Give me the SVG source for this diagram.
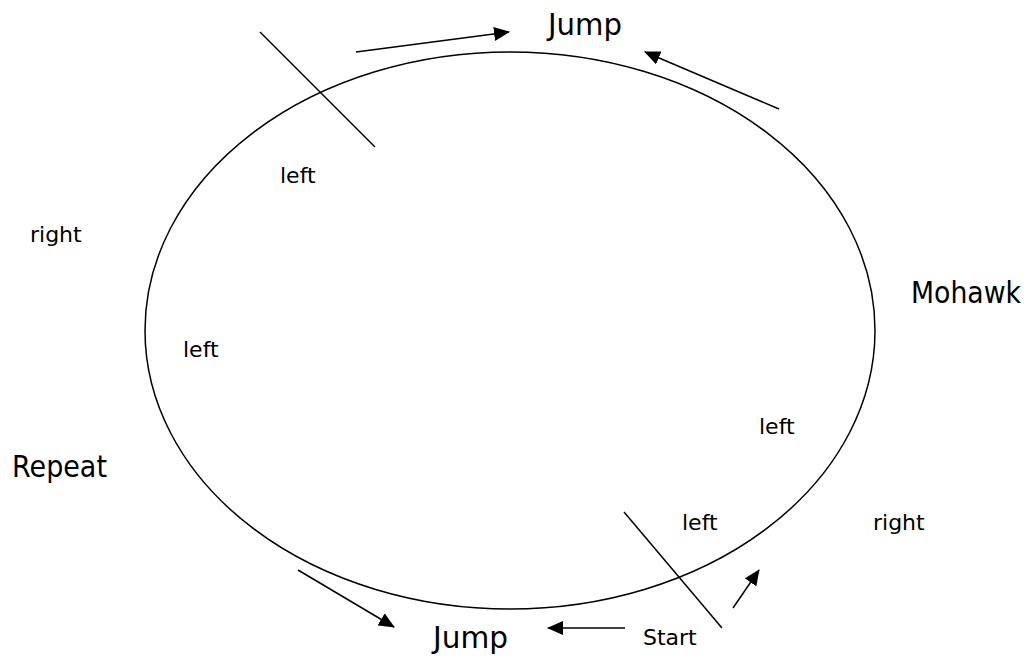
<svg xmlns="http://www.w3.org/2000/svg" width="1033" height="656" viewBox="0 0 1033 656">
<style>
.ln{stroke:#000;stroke-width:1.5;fill:none}
.big{font-family:"DejaVu Sans",Verdana,sans-serif;font-size:30px;fill:#000}
.sm{font-family:"DejaVu Sans",Verdana,sans-serif;font-size:22px;fill:#000}
</style>
<defs>
<marker id="a" viewBox="0 0 16 14" refX="15" refY="7" markerWidth="16" markerHeight="14" orient="auto" markerUnits="userSpaceOnUse">
<path d="M0,0 L16,7 L0,14 Z" fill="#000"/>
</marker>
</defs>
<rect width="1033" height="656" fill="#fff"/>
<g id="loop"><ellipse class="ln" cx="510" cy="330.5" rx="365" ry="278.5"/></g>
<g id="connectors">
<line class="ln" x1="260" y1="32" x2="375" y2="147"/>
<line class="ln" x1="624" y1="512" x2="722" y2="628"/>
<line class="ln" x1="356" y1="52" x2="509" y2="32" marker-end="url(#a)"/>
<line class="ln" x1="779" y1="109" x2="645" y2="52" marker-end="url(#a)"/>
<line class="ln" x1="298" y1="570" x2="394" y2="627" marker-end="url(#a)"/>
<line class="ln" x1="625" y1="628" x2="548" y2="628" marker-end="url(#a)"/>
<line class="ln" x1="733" y1="608" x2="759" y2="570" marker-end="url(#a)"/>
</g>
<g id="jump-top"><text class="big" x="548" y="35" textLength="74" lengthAdjust="spacingAndGlyphs">Jump</text></g>
<g id="jump-bottom"><text class="big" x="433" y="648" textLength="75" lengthAdjust="spacingAndGlyphs">Jump</text></g>
<g id="mohawk"><text class="big" x="911" y="303" textLength="110" lengthAdjust="spacingAndGlyphs">Mohawk</text></g>
<g id="repeat"><text class="big" x="12" y="477" textLength="95" lengthAdjust="spacingAndGlyphs">Repeat</text></g>
<g id="start"><text class="sm" x="643" y="645">Start</text></g>
<g id="left-1"><text class="sm" x="280" y="183">left</text></g>
<g id="left-2"><text class="sm" x="183" y="357">left</text></g>
<g id="left-3"><text class="sm" x="759" y="434">left</text></g>
<g id="left-4"><text class="sm" x="682" y="530">left</text></g>
<g id="right-1"><text class="sm" x="30" y="242">right</text></g>
<g id="right-2"><text class="sm" x="873" y="530">right</text></g>
</svg>
